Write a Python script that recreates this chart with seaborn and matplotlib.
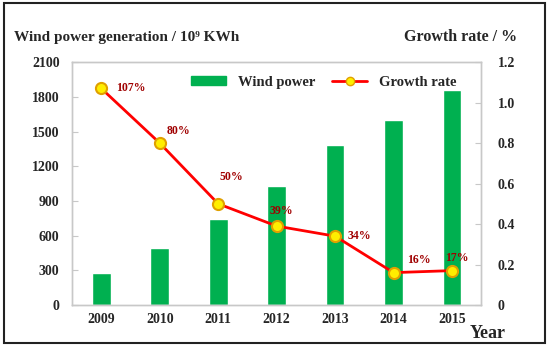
import numpy as np
import pandas as pd
import seaborn as sns
import matplotlib.pyplot as plt
from matplotlib.patches import Patch, Rectangle
from matplotlib.lines import Line2D

years = ['2009', '2010', '2011', '2012', '2013', '2014', '2015']
wind_power = [276, 494, 741, 1030, 1383, 1598, 1863]
growth_rate = [1.07, 0.80, 0.50, 0.39, 0.34, 0.16, 0.17]
growth_labels = ['107%', '80%', '50%', '39%', '34%', '16%', '17%']

df = pd.DataFrame({'Year': years, 'Wind power': wind_power, 'Growth rate': growth_rate})

sns.set_style('white')
plt.rcParams['font.family'] = ['Liberation Serif', 'DejaVu Serif']
plt.rcParams['font.weight'] = 'bold'

green = '#00B050'
fig = plt.figure(figsize=(5.5, 3.47), dpi=100)
ax = fig.add_axes([0.131, 0.121, 0.744, 0.700])

sns.barplot(data=df, x='Year', y='Wind power', color=green, width=0.32, saturation=1, ax=ax)
ax.set_ylim(0, 2100)
ax.set_yticks(np.arange(0, 2101, 300))
ax.set_xlim(-0.5, 6.5)
ax.set_xlabel('')
ax.set_ylabel('')

ax2 = ax.twinx()
sns.pointplot(data=df, x='Year', y='Growth rate', color='red', errorbar=None,
              linewidth=2, markers='o', markersize=8,
              markerfacecolor='#FFEE00', markeredgecolor='#E0A000', ax=ax2)
ax2.set_ylim(0, 1.2)
ax2.set_yticks(np.arange(0, 1.21, 0.2))
ax2.set_yticklabels(['0', '0.2', '0.4', '0.6', '0.8', '1.0', '1.2'])
ax2.set_xlim(-0.5, 6.5)
ax2.set_ylabel('')
ax2.set_xlabel('')

# percentage labels: offsets in points relative to each marker
offsets = [(11, 0), (5, 9), (1, 19), (-5, 11), (9, 0), (10, 9), (-5, 9)]
for i, (lab, off) in enumerate(zip(growth_labels, offsets)):
    ax2.annotate(lab, (i, growth_rate[i]), xytext=off, textcoords='offset points',
                 color='#A00000', fontsize=8.5, fontweight='bold', ha='left', va='center')

for a in (ax, ax2):
    for s in a.spines.values():
        s.set_color('#C8C8C8')
        s.set_linewidth(1)
ax.tick_params(axis='y', direction='in', length=4, color='#C8C8C8', pad=9, labelsize=10)
ax.tick_params(axis='x', length=0, pad=6, labelsize=10)
ax2.tick_params(axis='y', direction='in', length=4, color='#C8C8C8', pad=12, labelsize=10)
for lbl in ax.get_xticklabels() + ax.get_yticklabels() + ax2.get_yticklabels():
    lbl.set_fontweight('bold')

handles = [Patch(facecolor=green, edgecolor=green),
           Line2D([], [], color='red', lw=2, marker='o', markersize=6,
                  markerfacecolor='#FFEE00', markeredgecolor='#E0A000')]
ax2.legend(handles, ['Wind power', 'Growth rate'], ncol=2, frameon=False,
           loc='center', bbox_to_anchor=(0.615, 0.918), handlelength=2.4, handleheight=0.5,
           columnspacing=1.2, prop={'weight': 'bold', 'size': 10.5})

fig.text(0.025, 0.893, 'Wind power generation / 10⁹ KWh', fontsize=11, fontweight='bold',
         ha='left', va='center')
fig.text(0.94, 0.893, 'Growth rate / %', fontsize=11.5, fontweight='bold', ha='right', va='center')
fig.text(0.886, 0.04, 'Year', fontsize=13, fontweight='bold', ha='center', va='center')

fig.add_artist(Rectangle((0.008, 0.012), 0.983, 0.978, transform=fig.transFigure,
                         fill=False, lw=1.5, ec='#222222'))

fig.savefig('out.png', dpi=100)
